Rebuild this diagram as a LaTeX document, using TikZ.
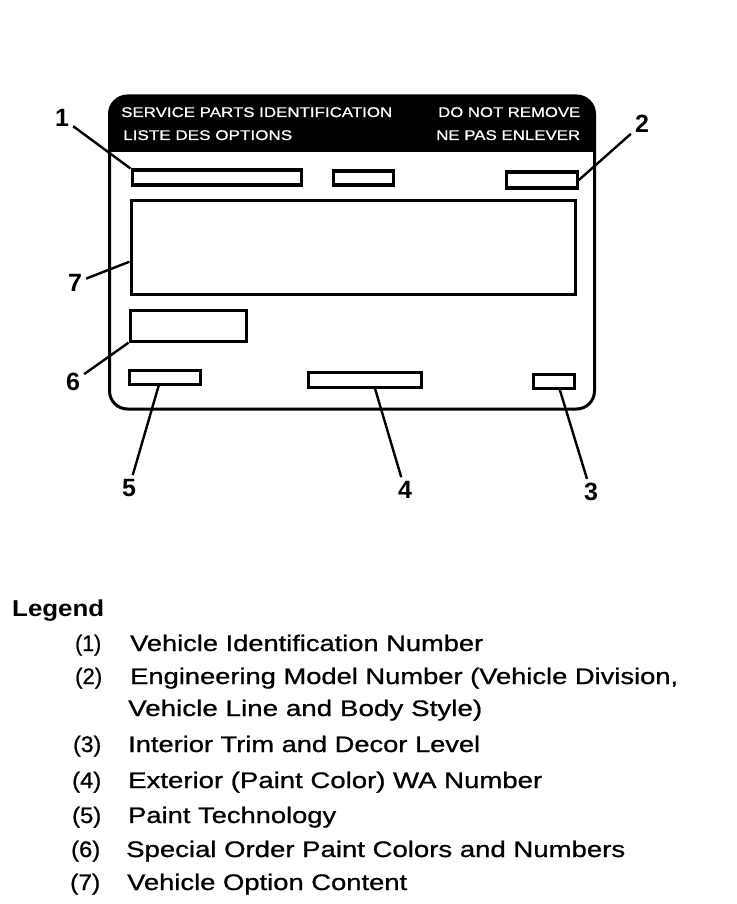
\documentclass[tikz,border=0pt]{standalone}
\usepackage{fontspec}
\usepackage{graphicx}
\setmainfont{Liberation Sans}
\newfontfamily\heavy[FakeBold=0.8]{Liberation Sans}
\usetikzlibrary{calc}
\newcommand\fitto[2]{\resizebox{#1pt}{\height}{#2}}
\begin{document}
\begin{tikzpicture}[x=1pt,y=-1pt,
  fieldbox/.style={draw, line width=3.2pt, inner sep=0pt, anchor=north west},
  callout/.style={font=\fontsize{25}{25}\selectfont\bfseries, inner sep=4pt},
  leader/.style={line width=2.4pt},
  hdr/.style={text=white, inner sep=0pt, anchor=base west, font=\heavy\fontsize{14}{14}\selectfont},
  leg/.style={inner sep=0pt, anchor=base west, font=\heavy\fontsize{22.5}{22.5}\selectfont},
]
\useasboundingbox (0,0) rectangle (736,904);

% label outline and black header
\begin{scope}
  \clip (90,80) rectangle (620,152);
  \fill[rounded corners=18pt] (109.5,96) rectangle (594.5,409);
\end{scope}
\draw[line width=3pt, rounded corners=18pt] (109.5,96) rectangle (594.5,409);

% header texts
\node[hdr] (h1) at (121,117) {\fitto{271}{SERVICE PARTS IDENTIFICATION}};
\node[hdr] (h2) at (123,140) {\fitto{169}{LISTE DES OPTIONS}};
\node[hdr] (h3) at (438,117) {\fitto{142}{DO NOT REMOVE}};
\node[hdr] (h4) at (436,140) {\fitto{144}{NE PAS ENLEVER}};

% fields
\node[fieldbox, minimum width=169pt, minimum height=15pt] (b1) at (130.5,168.5) {};
\node[fieldbox, minimum width=60pt,  minimum height=14pt] (bm) at (331.5,169.5) {};
\node[fieldbox, minimum width=71pt,  minimum height=16pt] (b2) at (504.5,170.5) {};
\node[fieldbox, minimum width=444pt, minimum height=94pt] (b7) at (129.5,198.5) {};
\node[fieldbox, minimum width=116pt, minimum height=31pt] (b6) at (128.5,308.5) {};
\node[fieldbox, minimum width=71pt,  minimum height=14pt] (b5) at (127.5,368.5) {};
\node[fieldbox, minimum width=113pt, minimum height=15pt] (b4) at (306.5,370.5) {};
\node[fieldbox, minimum width=41pt,  minimum height=14pt] (b3) at (531.5,372.5) {};

% callout numbers
\node[callout] (c1) at (62,118) {1};
\node[callout] (c2) at (642,124) {2};
\node[callout] (c3) at (591,492) {3};
\node[callout] (c4) at (405,490) {4};
\node[callout] (c5) at (129,488) {5};
\node[callout] (c6) at (73,382) {6};
\node[callout] (c7) at (75,283) {7};

% leaders
\draw[leader] (c1) -- (b1.north west);
\draw[leader] (c2) -- (b2.east);
\draw[leader] (c7) -- ($(b7.north west)!0.65!(b7.south west)$);
\draw[leader] (c6) -- (b6.south west);
\draw[leader] (c5) -- ($(b5.south west)!0.42!(b5.south east)$);
\draw[leader] (c4) -- ($(b4.south west)!0.59!(b4.south east)$);
\draw[leader] (c3) -- ($(b3.south west)!0.64!(b3.south east)$);

% legend
\node[leg, font=\fontsize{23}{23}\selectfont\bfseries] (lg) at (12,616) {\fitto{92}{Legend}};
\node[leg] (n1) at (75,651) {\fitto{26}{(1)}};
\node[leg] (t1) at (130,651) {\fitto{353}{Vehicle Identification Number}};
\node[leg] (n2) at (75,684) {\fitto{27}{(2)}};
\node[leg] (t2) at (130,684) {\fitto{548}{Engineering Model Number (Vehicle Division,}};
\node[leg] (t2b) at (128,716) {\fitto{354}{Vehicle Line and Body Style)}};
\node[leg] (n3) at (73,752) {\fitto{28}{(3)}};
\node[leg] (t3) at (128,752) {\fitto{352}{Interior Trim and Decor Level}};
\node[leg] (n4) at (72,788) {\fitto{29}{(4)}};
\node[leg] (t4) at (128,788) {\fitto{414}{Exterior (Paint Color) WA Number}};
\node[leg] (n5) at (72,823) {\fitto{29}{(5)}};
\node[leg] (t5) at (128,823) {\fitto{208}{Paint Technology}};
\node[leg] (n6) at (71,857) {\fitto{29}{(6)}};
\node[leg] (t6) at (126,857) {\fitto{499}{Special Order Paint Colors and Numbers}};
\node[leg] (n7) at (70,890) {\fitto{30}{(7)}};
\node[leg] (t7) at (127,890) {\fitto{280}{Vehicle Option Content}};
\end{tikzpicture}
\end{document}
